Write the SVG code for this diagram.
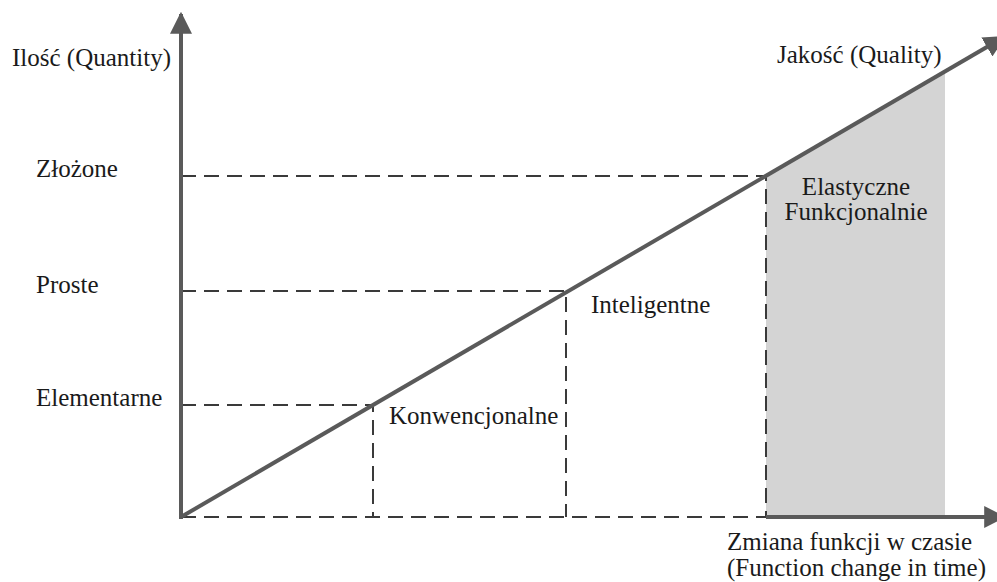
<svg xmlns="http://www.w3.org/2000/svg" width="997" height="582" viewBox="0 0 997 582">
<style>
.t{font-family:"Liberation Serif","Times New Roman",serif;font-size:25px;fill:#1a1a1a}
.ax{stroke:#5a5a5a;stroke-width:4;fill:none}
.ds{stroke:#3a3a3a;stroke-width:2;stroke-dasharray:15 8;fill:none}
</style>
<defs>
<marker id="ah" markerUnits="userSpaceOnUse" markerWidth="22" markerHeight="22" viewBox="0 0 20 20" refX="18" refY="10" orient="auto">
<path d="M0,0 L20,10 L0,20 Z" fill="#5a5a5a"/>
</marker>
</defs>
<rect width="997" height="582" fill="#fff"/>
<g id="region-elastic">
<polygon points="766,176 945,72 945,517 766,517" fill="#d4d4d4"/>
</g>
<g id="connectors">
<path class="ds" d="M181,405 H373 V517"/>
<path class="ds" d="M181,291 H566 V517"/>
<path class="ds" d="M181,176 H766 V517"/>
<path class="ds" d="M181,517 H766"/>
<line class="ax" x1="181" y1="519" x2="181" y2="14" marker-end="url(#ah)"/>
<line class="ax" x1="766" y1="517" x2="1004" y2="517" marker-end="url(#ah)"/>
<line class="ax" x1="181" y1="517" x2="1004" y2="37" marker-end="url(#ah)"/>
</g>
<g id="y-axis-label"><text class="t" x="12" y="66">Ilość (Quantity)</text></g>
<g id="quality-label"><text class="t" x="777" y="63">Jakość (Quality)</text></g>
<g id="level-complex"><text class="t" x="36" y="177">Złożone</text></g>
<g id="level-simple"><text class="t" x="36" y="293">Proste</text></g>
<g id="level-elementary"><text class="t" x="36" y="406">Elementarne</text></g>
<g id="conventional"><text class="t" x="389" y="424">Konwencjonalne</text></g>
<g id="intelligent"><text class="t" x="591" y="313">Inteligentne</text></g>
<g id="elastic"><text class="t" x="856" y="195" text-anchor="middle">Elastyczne</text><text class="t" x="856" y="220" text-anchor="middle">Funkcjonalnie</text></g>
<g id="x-axis-label"><text class="t" x="727" y="550">Zmiana funkcji w czasie</text><text class="t" x="727" y="576">(Function change in time)</text></g>
</svg>
